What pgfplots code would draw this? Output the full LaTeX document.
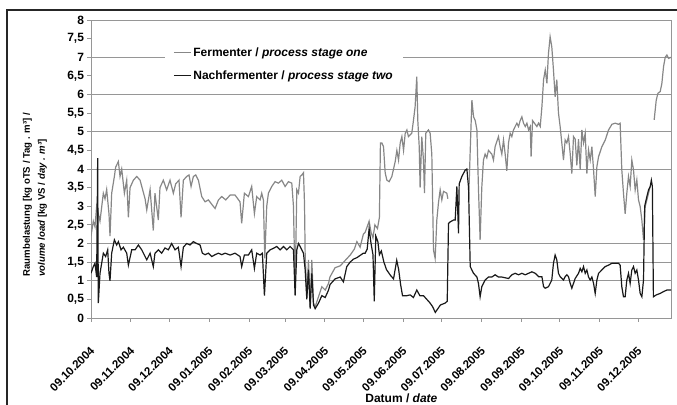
\documentclass[border=0pt]{standalone}
\usepackage{fontspec}
\setmainfont{Liberation Sans}
\usepackage{pgfplots}
\usepackage{pgfplotstable}
\pgfplotsset{compat=1.18}
\newcommand\ff{\fontsize{12bp}{14.5bp}\selectfont\bfseries}
\newcommand\fx{\fontsize{11.5bp}{14bp}\selectfont\bfseries}
\newcommand\fy{\fontsize{9.6bp}{15bp}\selectfont\bfseries}
\definecolor{fermgray}{RGB}{135,135,135}
\definecolor{nachblack}{RGB}{25,25,25}
\definecolor{gridgray}{RGB}{150,150,150}

\pgfplotstableread{
day val
0 2.2
1.8 2.6
3.1 2.45
4.4 3.0
7.0 2.6
9.6 3.35
10.9 3.2
12.2 3.45
14.0 2.8
14.8 2.2
16.1 3.35
18.2 3.8
19.2 4.05
21.3 4.2
22.6 3.8
23.9 4.0
26.0 3.35
27.8 3.7
29.1 2.7
30.4 3.5
33.0 3.7
35.6 3.8
38.2 3.7
42.1 3.2
43.4 2.9
46.0 3.45
48.5 2.35
49.8 3.35
52.4 2.63
53.7 3.5
56.3 3.7
58.9 3.44
61.5 3.7
64.1 3.35
65.9 3.6
68.5 3.7
70.1 2.7
71.9 3.7
74.5 3.8
76.3 3.84
77.9 3.53
79.7 3.8
81.5 3.84
83.6 3.7
86.2 3.26
88.8 3.12
91.4 3.17
94.5 3.03
96.6 2.94
99.2 3.17
101.8 3.26
104.9 3.17
108.3 3.3
112.1 3.3
116.0 3.12
117.3 2.54
119.4 3.35
122.5 3.26
125.1 3.53
127.2 2.8
129.0 3.26
131.6 3.17
132.9 3.35
134.2 3.17
135.3 1.6
136.8 3.0
138.1 3.35
140.7 3.53
143.3 3.66
145.9 3.62
148.5 3.7
151.1 3.53
153.7 3.66
156.3 3.62
157.6 3.0
158.9 0.8
160.2 3.44
161.5 3.35
162.8 3.8
164.1 3.84
165.4 3.9
166.2 3.08
166.7 1.74
168.0 0.57
169.3 1.56
170.6 0.3
171.9 1.56
173.2 0.4
174.5 0.3
177.1 0.57
179.7 0.84
182.3 0.75
184.9 0.93
186 1.1
190 1.35
194 1.4
198 1.55
202 1.7
205 1.85
207 2.05
209.5 1.9
212 2.25
213.4 2.3
215 2.45
216.5 2.6
218 2.3
219.5 2.15
221 2.5
223 2.4
224.5 2.7
225.3 4.7
226.4 4.7
227.7 4.6
229 3.9
230.3 3.7
232.1 3.66
234.2 3.8
236.8 4.2
238.1 4.5
239.4 4.24
240.7 4.7
242 4.87
243.3 4.5
244.6 4.96
245.9 5.05
247.1 4.87
249.7 4.96
251 5.3
252.3 5.67
253.6 6.48
254.4 5.3
255.5 4.6
256.2 3.5
257.5 4.87
258.8 4.24
259.6 3.35
260.6 4.96
262.7 5.05
264 4.96
265.3 4.4
266.6 1.83
267.9 1.6
269.2 2.63
270.5 3.1
271.8 3.44
273.1 3.17
274.4 3.4
277 3.35
277.8 3.2
278 nan
293.9 3.1
295.2 4.5
296.5 5.85
297.8 5.4
299.1 5.3
300.4 5.05
301.6 3.5
302.9 2.1
304.2 3.5
305.5 4.24
306.8 4.4
308.1 4.3
309.4 4.5
312 4.4
313.3 4.24
314.6 4.6
317.2 4.87
318.5 4.6
319.8 4.4
321.1 4.78
322.4 4.4
323.7 3.95
325 4.7
326.3 4.96
327.6 4.87
328.9 5.05
330.2 5.14
331.5 5.23
332.8 5.14
334.1 5.3
335.4 5.4
336.7 5.23
338 5.14
339.3 5.23
340.6 5.05
341.9 5.14
342.6 4.33
343.7 5.3
345.2 5.23
347.1 5.14
348.4 5.23
349.7 5.14
351 5.67
352.3 6.4
353.6 6.66
354.9 6.3
356.1 7.1
357.4 7.55
358.7 7.28
360 6.66
361.3 5.94
362.6 6.4
363.9 5.5
365.2 5.14
366.5 4.7
367.8 4.24
369.1 4.78
370.4 4.7
371.7 4.87
373 4.42
374.3 3.88
375.6 4.87
376.9 4.8
378.2 4.1
379.5 4.8
380.8 3.98
382.1 5.05
383.4 4.7
384.7 4.96
386 3.88
387.3 4.51
388.6 4.24
389.9 4.6
391.2 3.98
392.5 3.26
393.8 4.06
395.1 4.33
397.7 4.6
400.3 4.78
402.9 5.05
405.5 5.2
408.1 5.23
410.6 5.2
411.9 5.23
413.2 3.98
414.5 3.35
415.8 2.8
417.1 3.35
418.4 3.8
419.7 3.53
421 4.24
422.3 3.98
423.6 3.44
424.9 3.71
426.2 3.17
427.5 2.99
428.8 2.63
430.1 2.1
431.4 2.99
432.7 3.17
434 3.35
435.3 3.53
436.5 nan
438.4 5.32
440 5.85
441.3 6.03
443.1 6.08
444.4 6.3
445.7 6.75
447 7.0
448.3 7.06
449.6 6.97
451.7 7.0
}\fermenter

\pgfplotstableread{
day val
0 1.2
1.8 1.38
3.1 1.47
4.4 1.1
5.2 4.29
5.7 0.4
7.0 1.2
8.3 1.47
9.6 1.74
11.4 1.65
13.0 1.83
14.0 1.2
14.8 1.0
16.1 1.74
18.2 2.1
20.0 1.96
21.3 2.05
23.4 1.83
25.2 1.9
27.8 1.74
29.1 1.42
31.7 1.83
34.3 1.83
36.9 1.96
39.5 1.83
42.1 1.65
43.4 1.56
46.0 1.74
48.5 1.38
49.8 1.74
52.4 1.83
55.0 1.74
57.6 1.88
60.2 1.83
62.8 2.0
65.4 1.83
68.0 1.9
70.1 1.38
71.9 1.9
74.5 2.0
77.1 1.96
79.7 2.05
82.3 2.0
84.9 1.96
86.7 1.74
88.8 1.7
91.4 1.74
94.0 1.65
96.6 1.7
99.2 1.74
101.8 1.7
104.4 1.74
108.3 1.69
112.1 1.74
116.0 1.65
117.3 1.38
119.4 1.69
122.5 1.69
125.1 1.83
127.2 1.33
129.0 1.74
131.6 1.69
133.4 1.74
135.0 0.6
136.8 1.74
139.4 1.83
142.0 1.87
144.6 1.92
147.2 1.83
149.8 1.92
152.4 1.83
155.0 1.92
157.6 1.83
158.9 0.6
160.2 1.83
161.5 2.0
162.8 1.92
164.1 1.83
165.4 1.74
166.7 1.3
168.0 0.5
169.3 1.3
170.6 0.25
171.9 1.2
173.2 0.35
174.5 0.25
177.1 0.4
179.7 0.6
182.3 0.55
184.9 0.75
186.1 0.9
190 1.05
194 1.1
196.5 0.97
199.1 1.38
201.7 1.5
204.3 1.58
207 1.62
209.5 1.68
212 1.74
213.4 1.74
215 1.85
216.5 2.4
218 2.0
219.5 1.7
220.5 0.45
221.7 2.2
223.3 2.05
224.5 1.7
226 1.8
228 1.5
230 1.3
233 1.15
235.5 1.05
238 1.55
239.5 1.3
241 0.9
242.5 0.6
246 0.6
248.5 0.62
251 0.55
253.6 0.75
256 0.6
258.8 0.6
261.4 0.5
264 0.4
266 0.3
268 0.15
270 0.25
272 0.35
275.7 0.4
277.3 0.45
278.3 2.54
279.6 2.58
282.2 2.63
283.5 2.63
284.8 3.53
286.1 2.27
286.6 3.6
288.7 3.8
291.3 3.97
292.6 4.0
293.9 3.5
295.2 1.38
297.8 1.2
300.4 1.1
301.6 0.93
302.9 0.57
304.2 0.84
306.8 1.02
309.4 1.1
312 1.1
314.6 1.16
317.2 1.1
319.8 1.1
322.4 1.08
325 1.06
327.6 1.16
330.2 1.2
332.8 1.16
335.4 1.2
338 1.16
340.6 1.2
343.2 1.24
345.8 1.2
348.4 1.11
351 1.11
352.3 0.84
353.6 0.8
356.1 0.84
358.7 1.02
360 1.47
361.3 1.69
362.6 1.56
363.9 1.2
365.2 1.11
367.8 1.02
369.1 1.11
370.4 1.16
371.7 1.11
373 0.93
374.3 0.8
376.9 1.06
379.5 1.2
380.8 1.33
382.1 1.24
383.4 1.38
384.7 1.2
386 1.29
387.3 1.1
388.6 1.02
389.9 1.1
391.2 0.93
392.5 0.66
393.8 1.02
395.1 1.2
397.7 1.29
400.3 1.38
402.9 1.42
405.5 1.47
408.1 1.47
410.6 1.47
411.9 1.42
413.2 0.84
414.5 0.57
415.8 0.57
417.1 1.02
418.4 1.2
419.7 0.93
421 1.29
422.3 1.38
423.6 1.2
424.9 1.29
426.2 1.02
427.5 0.66
428.8 0.57
430.1 1.02
431 3.0
432.7 3.26
434 3.44
435.3 3.53
436.2 3.7
437 3.53
437.8 0.57
440 0.62
443.1 0.66
445.7 0.71
448.3 0.75
451.7 0.75
}\nachfermenter

\begin{document}
\begin{tikzpicture}
\useasboundingbox (0bp,0bp) rectangle (677bp,405bp);
\draw[line width=1.3bp, black!85] (7bp,-5bp) -- (7bp,395bp) -- (685bp,395bp);
\begin{axis}[
  at={(91bp,87bp)}, anchor=south west,
  scale only axis, width=580bp, height=298bp,
  xmin=0, xmax=451.5, ymin=0, ymax=8,
  unbounded coords=jump,
  axis line style={draw=gridgray, line width=0.9bp},
  tick style={draw=gridgray, line width=0.9bp},
  tick align=outside, major tick length=3.5bp,
  xtick pos=left, ytick pos=left,
  ytick={0,0.5,...,8},
  yticklabel style={font=\ff, /pgf/number format/use comma, /pgf/number format/assume math mode=true},
  extra y ticks={1,1.5,2,4,5,6,7,8},
  extra y tick labels={},
  extra y tick style={grid=major, major grid style={draw=gridgray, line width=0.9bp}, major tick length=0pt},
  xtick={0,31,61,92,123,151,182,212,243,273,304,335,365,396,426},
  xticklabels={09.10.2004,09.11.2004,09.12.2004,09.01.2005,09.02.2005,09.03.2005,09.04.2005,09.05.2005,09.06.2005,09.07.2005,09.08.2005,09.09.2005,09.10.2005,09.11.2005,09.12.2005},
  xticklabel style={font=\fx, rotate=45, anchor=north east, inner sep=0pt, xshift=-18bp, yshift=-16bp},
  xlabel={Datum / \textit{date}},
  xlabel style={font=\ff, at={(axis description cs:0.467,-0.268)}, anchor=west},
  ylabel={Raumbelastung [kg oTS / Tag . m³] /\\\textit{volume load} [kg VS / \textit{day . m³}]},
  ylabel style={font=\fy, at={(axis description cs:-0.0966,0.1275)}, anchor=west, align=left},
  legend style={at={(rel axis cs:0.1276,0.925)}, anchor=north west, draw=none, fill=white,
    font=\ff, inner xsep=8bp, inner ysep=3bp, row sep=9bp,
    /tikz/every even column/.append style={column sep=2bp}},
  legend cell align=left,
  legend image code/.code={\draw[#1] (0bp,0bp) -- (17bp,0bp);},
]
\addplot[color=fermgray, line width=1.2bp] table[x=day, y=val] {\fermenter};
\addlegendentry{Fermenter / \textit{process stage one}}
\addplot[color=nachblack, line width=1.2bp] table[x=day, y=val] {\nachfermenter};
\addlegendentry{Nachfermenter / \textit{process stage two}}
\end{axis}
\end{tikzpicture}
\end{document}
